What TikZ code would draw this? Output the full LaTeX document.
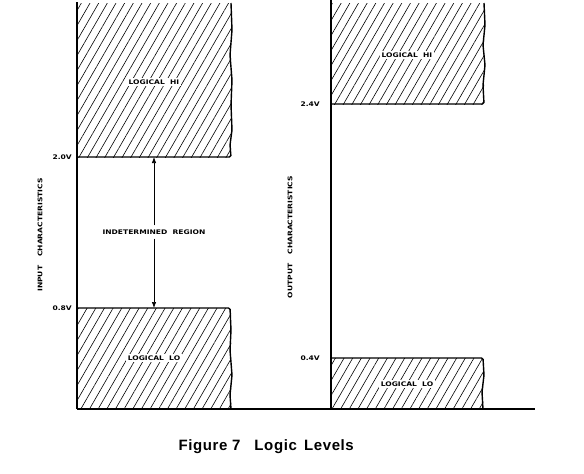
\documentclass[tikz,border=0pt]{standalone}
\usepackage{fontspec}
\setmainfont{Liberation Sans}
\newfontfamily\lblfont[FakeStretch=1.2]{DejaVu Sans}
\newfontfamily\capfont[LetterSpace=4]{Liberation Sans}
\usetikzlibrary{patterns.meta,arrows.meta}
\begin{document}
\begin{tikzpicture}[x=1pt,y=-1pt,
  axis/.style={line width=1.6pt},
  edge/.style={line width=1.4pt, rounded corners=1.5pt},
  hatch/.style={pattern={Lines[angle=60,distance=7.5pt,line width=0.6pt]}},
  tiny/.style={font=\lblfont\fontsize{6.3}{7}\selectfont\bfseries, inner sep=1pt},
  inbox/.style={tiny, fill=white, inner sep=1.5pt},
  arr/.style={line width=0.7pt,-{Latex[length=6pt,width=4.5pt]}}
]
\useasboundingbox (0,0) rectangle (584,474);
% ---- left panel ----
\fill[hatch] (77,3) rectangle (231,157);
\fill[hatch] (77,308) rectangle (231,409);
\draw[edge] (231,3) -- (232,30) -- (230,55) -- (232,80) -- (231,105) -- (232,130) -- (230,145) -- (231,157) -- (77,157);
\draw[edge] (77,308) -- (230,308) -- (231,330) -- (230,350) -- (232,375) -- (230,395) -- (231,409);
\draw[axis] (77,2) -- (77,409);
% ---- right panel ----
\fill[hatch] (331,3) rectangle (484,104);
\fill[hatch] (331,358) rectangle (483,409);
\draw[edge] (484,3) -- (485,25) -- (483,45) -- (485,65) -- (483,85) -- (484,104) -- (331,104);
\draw[edge] (331,358) -- (483,358) -- (484,375) -- (482,392) -- (483,409);
\draw[axis] (331,0) -- (331,409);
% ---- baseline ----
\draw[axis] (77,409) -- (535,409);
% ---- labels ----
\node[inbox] (hiIn) at (154,82) {LOGICAL\ \ HI};
\node[inbox] (loIn) at (154,358) {LOGICAL\ \ LO};
\node[inbox] (hiOut) at (407,55) {LOGICAL\ \ HI};
\node[inbox] (loOut) at (407,384) {LOGICAL\ \ LO};
\coordinate (v20) at (77,157);
\coordinate (v08) at (77,308);
\coordinate (v24) at (331,104);
\coordinate (v04) at (331,358);
\node[tiny, anchor=east] (l20) at ([xshift=-4pt]v20) {2.0V};
\node[tiny, anchor=east] (l08) at ([xshift=-4pt]v08) {0.8V};
\node[tiny, anchor=east] (l24) at ([xshift=-10pt]v24) {2.4V};
\node[tiny, anchor=east] (l04) at ([xshift=-10pt]v04) {0.4V};
\node[tiny, rotate=90] (inch) at (40,235) {INPUT\hspace{9pt}CHARACTERISTICS};
\node[tiny, rotate=90] (outch) at (290,237) {OUTPUT\hspace{9pt}CHARACTERISTICS};
\node[tiny, inner sep=4pt] (ind) at (154,232) {INDETERMINED\ \ REGION};
\coordinate (t20) at (154,157);
\coordinate (t08) at (154,308);
\draw[arr] (ind.north) -- (t20);
\draw[arr] (ind.south) -- (t08);
% ---- caption ----
\node[font=\capfont\fontsize{15}{18}\selectfont\bfseries, anchor=west] (cap) at (175,447) {Figure 7\hspace{14pt}Logic\, Levels};
\end{tikzpicture}
\end{document}
